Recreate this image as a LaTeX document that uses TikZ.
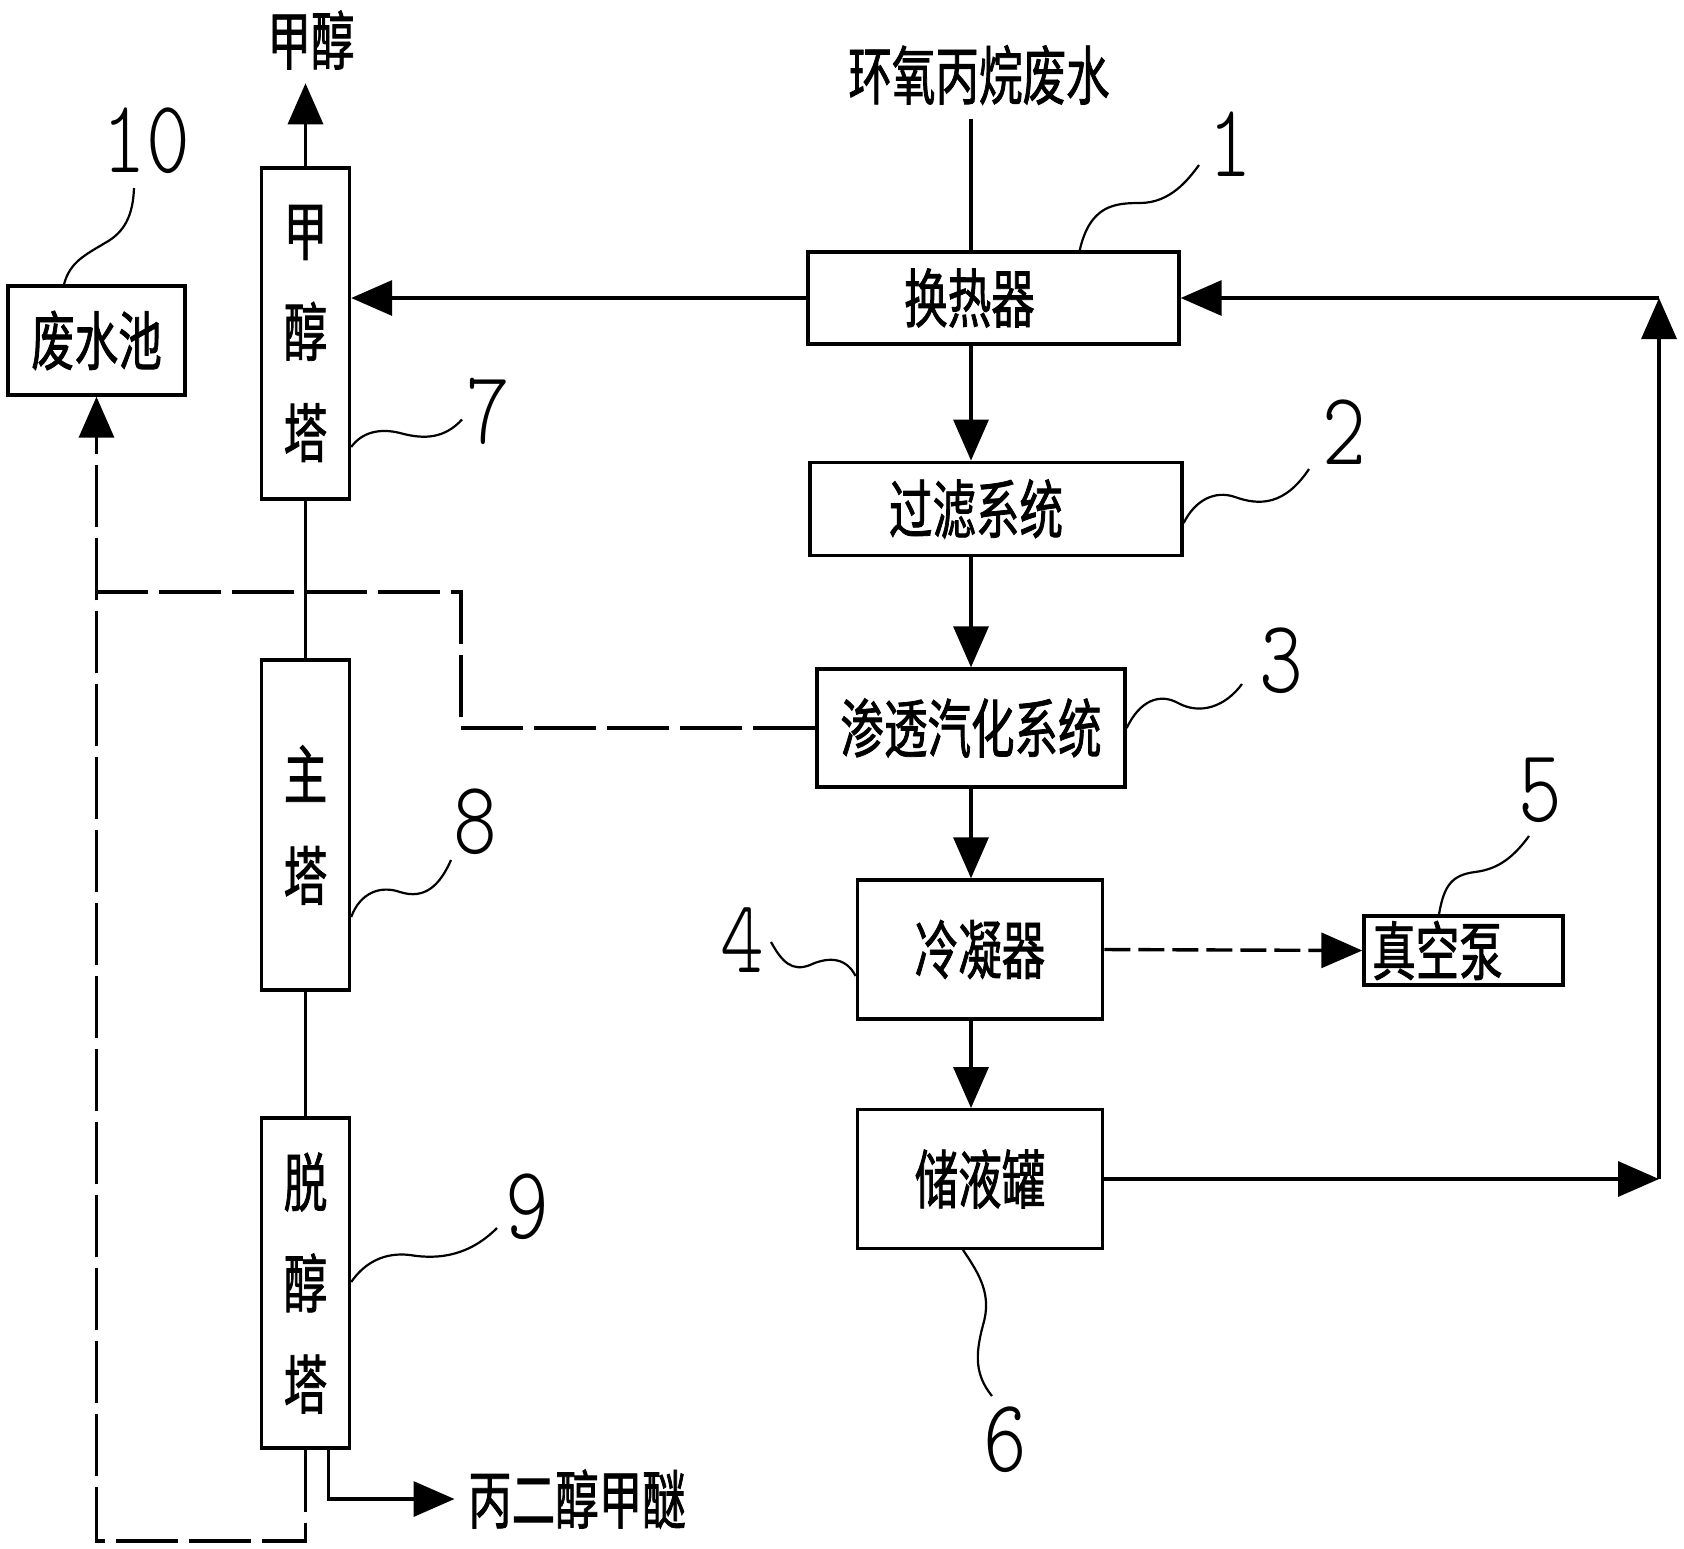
\documentclass[tikz,border=0pt]{standalone}
\usepackage{fontspec}
\newfontfamily\cjk[FakeStretch=0.68,FakeBold=1.2]{Noto Sans CJK SC}
\newfontfamily\numfont[FakeStretch=0.8]{Latin Modern Mono Light}
\usetikzlibrary{arrows.meta,calc}
\begin{document}
\begin{tikzpicture}[
        x=0.5pt, y=-0.5pt,
        line width=1.7pt,
        font=\cjk\fontsize{32}{50.5}\selectfont
    ]
    \tikzset{
        mybox/.style = {draw=black, inner sep=0pt},
        mycol/.style = {mybox, align=center, minimum width=44pt},
        mytext/.style = {inner sep=6pt},
        mynum/.style = {inner sep=0pt, font=\numfont\fontsize{52}{52}\selectfont},
        edgef/.style = {-{Triangle[length=20.5pt,width=17.5pt]}},
        edgeh/.style = {dash pattern=on 31pt off 5.5pt},
        edgev/.style = {dash pattern=on 13pt off 4pt},
        edgel/.style = {line width=1.1pt},
    }
    \useasboundingbox (0,0) rectangle (1684,1548);
    \node[mybox, minimum width=185.5pt, minimum height=46pt] at (993.5,298) (hx) {换热器\hspace*{24pt}};
    \node[mybox, minimum width=186pt, minimum height=46.75pt] at (996,509) (filt) {过滤系统\hspace*{20pt}};
    \node[mybox, minimum width=154pt, minimum height=59pt] at (971,728) (perv) {渗透汽化系统};
    \node[mybox, minimum width=122.75pt, minimum height=69.5pt] at (980,949.5) (cond) {冷凝器};
    \node[mybox, minimum width=122.75pt, minimum height=69.25pt] at (980,1179) (tank) {储液罐};
    \node[mybox, minimum width=99.5pt, minimum height=34.5pt] at (1463.5,950.5) (pump) {真空泵\hspace*{26pt}};
    \node[mybox, minimum width=88.5pt, minimum height=54.5pt] at (96.5,340.5) (pool) {废水池};
    \node[mycol, minimum height=165.5pt] at (305.5,333.5) (meo) {甲\\醇\\塔};
    \node[mycol, minimum height=165pt] at (305.5,825) (main) {主\\塔};
    \node[mycol, minimum height=165pt] at (305.5,1283) (deal) {脱\\醇\\塔};
    %
    \node[mytext] at (979,75) (feed) {环氧丙烷废水};
    \node[mytext] at (311,40) (meout) {甲醇};
    \node[mytext] at (577,1499) (pgme) {丙二醇甲醚};
    %
    \node[mynum] at (1230,144) (n1) {1};
    \node[mynum] at (1344,432) (n2) {2};
    \node[mynum] at (1281,661) (n3) {3};
    \node[mynum] at (742,940) (n4) {4};
    \node[mynum] at (1540,790) (n5) {5};
    \node[mynum] at (1005,1440) (n6) {6};
    \node[mynum] at (488,411) (n7) {7};
    \node[mynum] at (475,822) (n8) {8};
    \node[mynum] at (527,1207) (n9) {9};
    \node[mynum] at (146,141) (n10) {10};
    %
    \coordinate (mx) at (971,0);
    \coordinate (rx) at (1659,0);
    \coordinate (kink) at (461,592);
    \coordinate (bot) at (96.5,1541);
    %
    \draw (feed.south -| mx) -- (hx.north -| mx);
    \draw[edgef] (hx.south -| mx) -- (filt.north -| mx);
    \draw[edgef] (filt.south -| mx) -- (perv.north -| mx);
    \draw[edgef] (perv.south -| mx) -- (cond.north -| mx);
    \draw[edgef] (cond.south -| mx) -- (tank.north -| mx);
    \draw[edgef, edgev] (cond.east) -- (pump.west);
    %
    \draw[edgef] (tank.east) -- (tank.east -| rx);
    \draw[edgef] (tank.east -| rx) -- (hx.east -| rx);
    \draw[edgef] (hx.east -| rx) -- (hx.east);
    \draw[edgef] (hx.west) -- (hx.west -| meo.east);
    %
    \draw[edgef] (meo.north) -- (meo.north |- meout.south);
    \draw (meo.south) -- (main.north);
    \draw (main.south) -- (deal.north);
    \draw[edgef] ([xshift=11.6pt]deal.south) |- (pgme.west);
    %
    \draw[edgef, edgeh] (deal.south) |- (bot) -- (pool.south);
    \draw[edgeh] (perv.west) -| (kink) -- (kink -| pool.south);
    %
    \draw[edgel] ($(hx.north east)+(-101,0)$) .. controls (1090,205) and (1115,203) .. (1140,203)
        .. controls (1170,203) and (1188,180) .. ($(n1)+(-31,21)$);
    \draw[edgel] ($(filt.east)+(0,14)$) .. controls (1195,500) and (1215,490) .. (1235,497)
        .. controls (1260,506) and (1285,505) .. ($(n2)+(-35,37)$);
    \draw[edgel] (perv.east) .. controls (1140,700) and (1160,693) .. (1178,703)
        .. controls (1200,715) and (1225,707) .. ($(n3)+(-39,23)$);
    \draw[edgel] ($(n4)+(29,2)$) .. controls (782,962) and (792,972) .. (810,965)
        .. controls (825,958) and (845,955) .. ($(cond.west)+(0,26.5)$);
    \draw[edgel] ($(pump.north)+(-24.5,0)$) .. controls (1444,885) and (1452,875) .. (1475,872)
        .. controls (1500,869) and (1515,855) .. ($(n5)+(-11,46)$);
    \draw[edgel] ($(tank.south)+(-17,0)$) .. controls (980,1275) and (992,1295) .. (983,1325)
        .. controls (975,1355) and (975,1375) .. ($(n6)+(-13,-44)$);
    \draw[edgel] ($(meo.east)+(0,113.5)$) .. controls (362,432) and (380,428) .. (400,433)
        .. controls (425,440) and (445,438) .. ($(n7)+(-26,8.5)$);
    \draw[edgel] ($(main.east)+(0,92)$) .. controls (360,893) and (380,885) .. (400,892)
        .. controls (425,900) and (440,885) .. ($(n8)+(-24,38)$);
    \draw[edgel] ($(deal.east)+(0,-1)$) .. controls (365,1262) and (385,1252) .. (410,1255)
        .. controls (440,1260) and (470,1255) .. ($(n9)+(-30,21)$);
    \draw[edgel] ($(pool.north)+(-32.5,0)$) .. controls (70,262) and (85,255) .. (105,243)
        .. controls (125,232) and (133,215) .. ($(n10)+(-12,47)$);
\end{tikzpicture}
\end{document}
